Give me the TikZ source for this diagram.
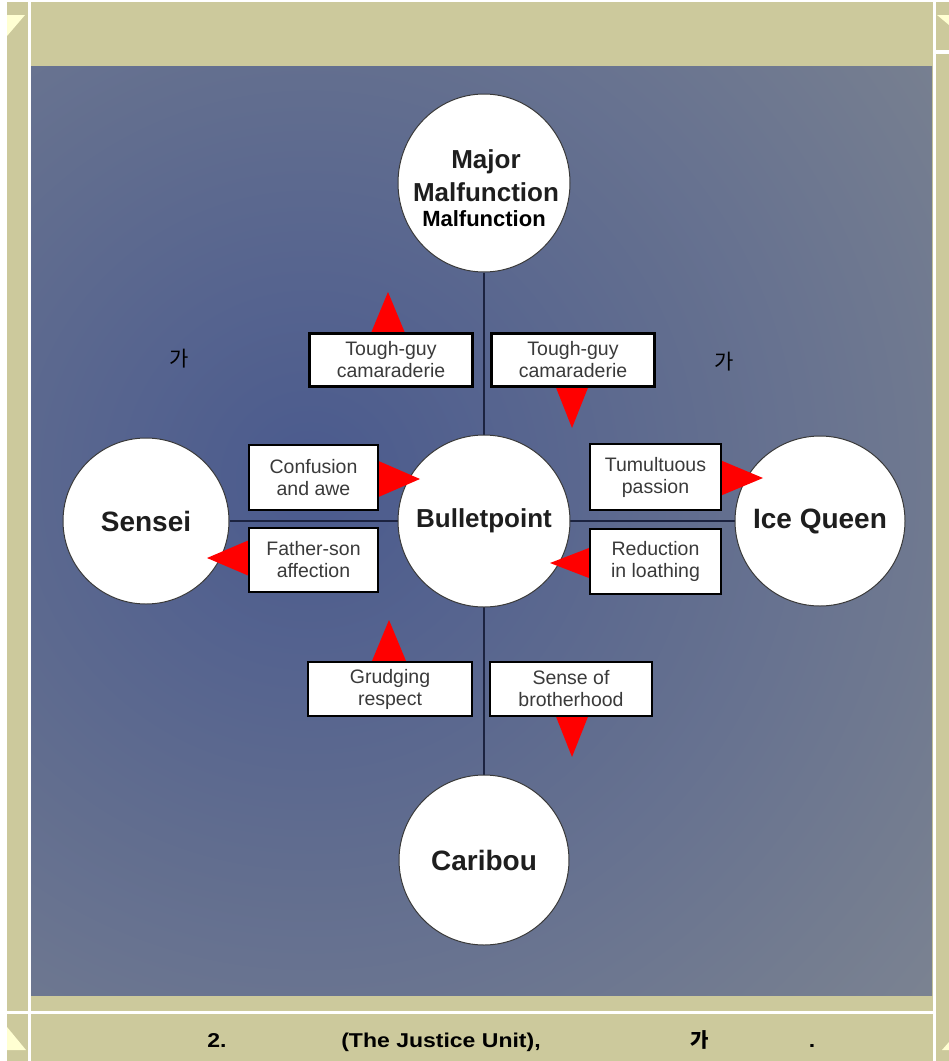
\documentclass[tikz,border=0pt]{standalone}
\usepackage{fontspec}
\setmainfont{Liberation Sans}
\newfontfamily\krfont{Noto Sans CJK KR}
\usetikzlibrary{backgrounds,shapes.geometric}
\definecolor{khaki}{HTML}{CCC99C}
\definecolor{hilite}{HTML}{FFFFD2}
\definecolor{bgin}{HTML}{4A5A8E}
\definecolor{bgout}{HTML}{7F8691}
\definecolor{circedge}{HTML}{3A3A3A}
\definecolor{nametext}{HTML}{1E1E1E}
\definecolor{boxtext}{HTML}{3A3A3A}
\definecolor{arrowred}{HTML}{FF0000}
\definecolor{linecol}{HTML}{1C2340}
\newcommand\capstretch[1]{\scalebox{1.15}[1]{#1}}
\begin{document}
\begin{tikzpicture}[x=1pt,y=-1pt,
  person/.style={circle, fill=white, draw=circedge, line width=1pt, minimum size=172pt, inner sep=0pt,
    font=\bfseries\fontsize{26}{33}\selectfont, text=nametext, align=center},
  bigname/.style={font=\bfseries\fontsize{28}{33}\selectfont},
  relbox/.style={rectangle, fill=white, draw=black, line width=2.5pt, inner sep=0pt, align=center,
    font=\fontsize{19.5}{22}\selectfont, text=boxtext},
  redtri/.style={fill=arrowred},
  link/.style={draw=linecol, line width=2pt},
  cell/.style={fill=khaki},
  glow/.style={fill=hilite},
  captext/.style={font=\bfseries\fontsize{20}{24}\selectfont, text=black, inner sep=0pt, anchor=base},
  kortext/.style={font=\krfont\fontsize{21}{21}\selectfont, text=black, inner sep=0pt}]
\useasboundingbox (0,0) rectangle (949,1061);

% persons
\node[person, ellipse, minimum width=172pt, minimum height=178pt] (major) at (484,183) {};
\node[person] (bullet) at (484,521) {Bulletpoint};
\node[person, bigname, minimum size=166pt] (sensei) at (146,521) {Sensei};
\node[person, bigname, minimum size=170pt] (ice) at (820,521) {Ice Queen};
\node[person, bigname, minimum size=170pt] (caribou) at (484,860) {Caribou};
\node[font=\bfseries\fontsize{26}{33}\selectfont, text=nametext, align=center, inner sep=0pt] (majorlbl) at (486,176) {Major\\Malfunction};
\node[font=\bfseries\fontsize{22}{24}\selectfont, text=black, inner sep=0pt] (majorextra) at (484,219) {Malfunction};

\begin{scope}[on background layer]
\fill[white] (0,0) rectangle (949,1061);
% table cells
\fill[cell] (7,2) rectangle (28,1011);
\fill[cell] (7,1014) rectangle (28,1061);
\fill[cell] (31,2) rectangle (933,1011);
\fill[cell] (31,1014) rectangle (933,1061);
\fill[cell] (936,2) rectangle (949,50);
\fill[cell] (936,54) rectangle (949,1061);
\fill[glow] (7,15) -- (25,15) -- (7,36) -- cycle;
\fill[glow] (7,1027) -- (26,1050) -- (7,1050) -- cycle;
\fill[glow] (937,15) -- (949,15) -- (949,25) -- cycle;
\fill[glow] (949,1042) -- (949,1050) -- (942,1050) -- cycle;
% background picture
\begin{scope}
\clip (31,66) rectangle (932,995);
\fill[bgout] (31,66) rectangle (932,995);
\shade[inner color=bgin, outer color=bgout] (310,480) circle (880pt);
\end{scope}
\draw[link] (major) -- (caribou);
\draw[link] (sensei) -- (ice);
\end{scope}

% red triangles
\fill[redtri] (388,292) -- (410,345) -- (366,345) -- cycle;
\fill[redtri] (572,428) -- (593,375) -- (551,375) -- cycle;
\fill[redtri] (420,479) -- (367,502) -- (367,456) -- cycle;
\fill[redtri] (207,558) -- (261,535) -- (261,581) -- cycle;
\fill[redtri] (763,478) -- (708,501) -- (708,455) -- cycle;
\fill[redtri] (550,563) -- (602,543) -- (602,583) -- cycle;
\fill[redtri] (389,620) -- (411,673) -- (367,673) -- cycle;
\fill[redtri] (572,757) -- (593,704) -- (551,704) -- cycle;

% relation boxes
\node[relbox, minimum width=163pt, minimum height=53pt] (tg1) at (391,360) {Tough-guy\\camaraderie};
\node[relbox, minimum width=163pt, minimum height=53pt] (tg2) at (573,360) {Tough-guy\\camaraderie};
\node[relbox, minimum width=129pt, minimum height=65pt] (conf) at (313.5,477.5) {Confusion\\and awe};
\node[relbox, minimum width=129pt, minimum height=64pt] (father) at (313.5,560) {Father-son\\affection};
\node[relbox, minimum width=131pt, minimum height=66pt] (tum) at (655.5,477) {Tumultuous\\passion};
\node[relbox, minimum width=131pt, minimum height=65pt] (reduc) at (655.5,561.5) {Reduction\\in loathing};
\node[relbox, minimum width=164pt, minimum height=54pt] (grudge) at (390,689) {Grudging\\respect};
\node[relbox, minimum width=162pt, minimum height=54pt] (sense) at (571,689) {Sense of\\brotherhood};

% korean marks
\node[kortext] (ka1) at (179,359) {가};
\node[kortext] (ka2) at (724,362) {가};

% caption
\node[captext] (cap1) at (217,1047) {\capstretch{2.}};
\node[captext] (cap2) at (441,1047) {\capstretch{(The Justice Unit),}};
\node[captext, font=\krfont\bfseries\fontsize{20}{24}\selectfont] (cap3) at (700,1047) {가};
\node[captext] (cap4) at (812,1047) {\capstretch{.}};
\end{tikzpicture}
\end{document}
